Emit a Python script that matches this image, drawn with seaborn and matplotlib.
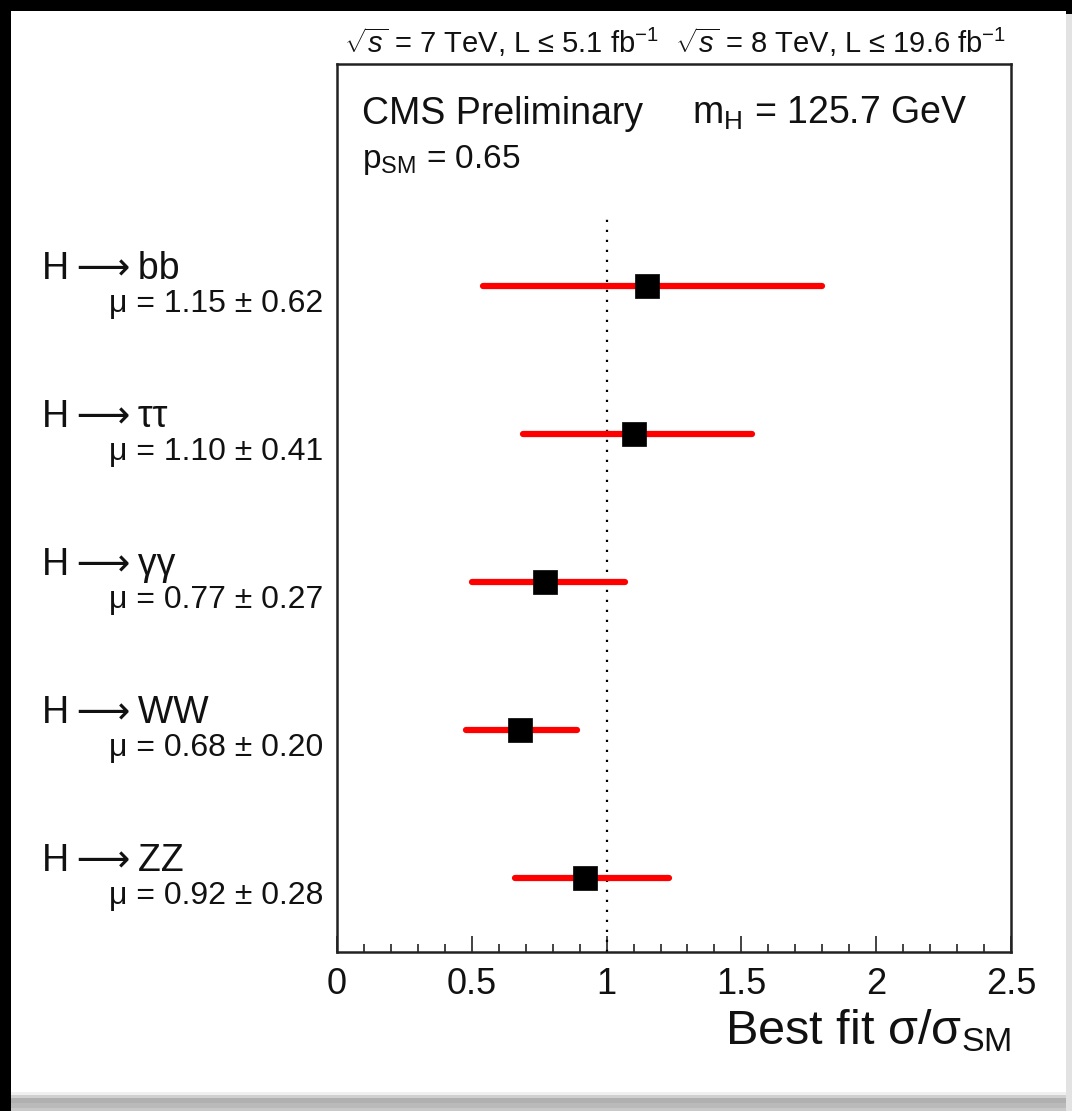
import matplotlib
matplotlib.use("Agg")
import matplotlib.pyplot as plt
import matplotlib.transforms as mtransforms
from matplotlib.patches import Rectangle
from matplotlib.ticker import MultipleLocator
import seaborn as sns
import pandas as pd

# Signal strength per decay channel (best fit and its uncertainty)
channels = ["H\u2009\u27f6\u2009bb", "H\u2009\u27f6\u2009\u03c4\u03c4", "H\u2009\u27f6\u2009\u03b3\u03b3",
            "H\u2009\u27f6\u2009WW", "H\u2009\u27f6\u2009ZZ"]
mu_best = [1.15, 1.10, 0.77, 0.68, 0.92]
mu_err = [0.62, 0.41, 0.27, 0.20, 0.28]
err_low = [0.61, 0.41, 0.27, 0.20, 0.26]
err_high = [0.65, 0.44, 0.30, 0.21, 0.31]
row_pos = [4, 3, 2, 1, 0]

x_ticks = [0, 0.5, 1, 1.5, 2, 2.5]
x_tick_labels = ["0", "0.5", "1", "1.5", "2", "2.5"]

df = pd.DataFrame({"channel": channels, "mu": mu_best, "y": row_pos,
                   "lo": [m - e for m, e in zip(mu_best, err_low)],
                   "hi": [m + e for m, e in zip(mu_best, err_high)]})

sns.set_style("ticks")
plt.rcParams["font.family"] = ["Liberation Sans", "DejaVu Sans"]
plt.rcParams["mathtext.fontset"] = "custom"
plt.rcParams["mathtext.rm"] = "Liberation Sans"
plt.rcParams["mathtext.it"] = "Liberation Sans:italic"
plt.rcParams["mathtext.bf"] = "Liberation Sans:bold"

W, H = 1072, 1111
fig = plt.figure(figsize=(W / 100, H / 100), dpi=100)
fig.patch.set_facecolor("black")

# page with a soft drop shadow along the bottom edge
shadow = [(19, "#f0f0f0"), (16, "#d0d0d0"), (13, "#b0b0b0"), (8, "#bababa"), (3, "#c8c8c8")]
for top, col in shadow:
    fig.patches.append(Rectangle((11 / W, 0), 1 - 11 / W, top / H, transform=fig.transFigure,
                                 facecolor=col, edgecolor="none", zorder=-3))
fig.patches.append(Rectangle((1066 / W, 0), 6 / W, 1 - 14 / H, transform=fig.transFigure,
                             facecolor="#e2e2e2", edgecolor="none", zorder=-3))
fig.patches.append(Rectangle((11 / W, 19 / H), 1055 / W, 1 - 30 / H, transform=fig.transFigure,
                             facecolor="white", edgecolor="none", zorder=-2))

ax = fig.add_axes([337 / W, (H - 952) / H, (1011 - 337) / W, (952 - 64) / H])
ax.set_facecolor("white")

# reference line at the SM expectation
ax.vlines(1.0, -0.5, 4.5, colors="black", linewidth=1.6, linestyles=(0, (1, 3.5)), zorder=1)

# uncertainty bars
ax.hlines(df["y"], df["lo"], df["hi"], colors="#ff0000", linewidth=4.5, zorder=2,
          capstyle="round")
sns.scatterplot(data=df, x="mu", y="y", marker="s", s=300, color="black",
                edgecolor="black", linewidth=0.5, zorder=3, ax=ax, legend=False)

ax.set_xlim(0, 2.5)
ax.set_ylim(-0.5, 5.5)
ax.set_xticks(x_ticks)
ax.set_xticklabels(x_tick_labels)
ax.xaxis.set_minor_locator(MultipleLocator(0.1))
ax.set_yticks([])
ax.set_xlabel("")
ax.set_ylabel("")
ax.tick_params(axis="x", which="major", direction="in", length=11.5, width=1.2,
               color="#222222", labelsize=26, pad=11, labelcolor="#111111")
ax.tick_params(axis="x", which="minor", direction="in", length=5.5, width=1.2, color="#222222")
for sp in ax.spines.values():
    sp.set_visible(True)
    sp.set_linewidth(1.8)
    sp.set_color("#222222")

# axis title
ax.text(1.0, -0.062, "Best fit \u03c3/\u03c3$_{\\mathrm{SM}}$", transform=ax.transAxes,
        ha="right", va="top", fontsize=35, color="#111111")

# channel labels and fitted values
blend = mtransforms.blended_transform_factory(fig.transFigure, ax.transData)
for name, m, e, y in zip(channels, mu_best, mu_err, row_pos):
    ax.text(42 / W, y + 0.05, name, transform=blend, ha="left", va="baseline",
            fontsize=27, color="#111111")
    ax.text(323 / W, y - 0.175, f"\u03bc = {m:.2f} \u00b1 {e:.2f}", transform=blend,
            ha="right", va="baseline", fontsize=23, color="#111111")

# header and annotations
fig.text(675 / W, 1 - 53 / H,
         "$\\sqrt{s}$ = 7 TeV, L \u2264 5.1 fb$^{-1}$  $\\sqrt{s}$ = 8 TeV, L \u2264 19.6 fb$^{-1}$",
         ha="center", va="baseline", fontsize=21, color="#111111")
fig.text(362 / W, 1 - 124 / H, "CMS Preliminary", ha="left", va="baseline",
         fontsize=27, color="#111111")
fig.text(692 / W, 1 - 124 / H, "m$_{\\mathrm{H}}$ = 125.7 GeV", ha="left", va="baseline",
         fontsize=27, color="#111111")
fig.text(362 / W, 1 - 168 / H, "p$_{\\mathrm{SM}}$ = 0.65", ha="left", va="baseline",
         fontsize=24, color="#111111")

fig.savefig("out.png", dpi=100, facecolor=fig.get_facecolor())
